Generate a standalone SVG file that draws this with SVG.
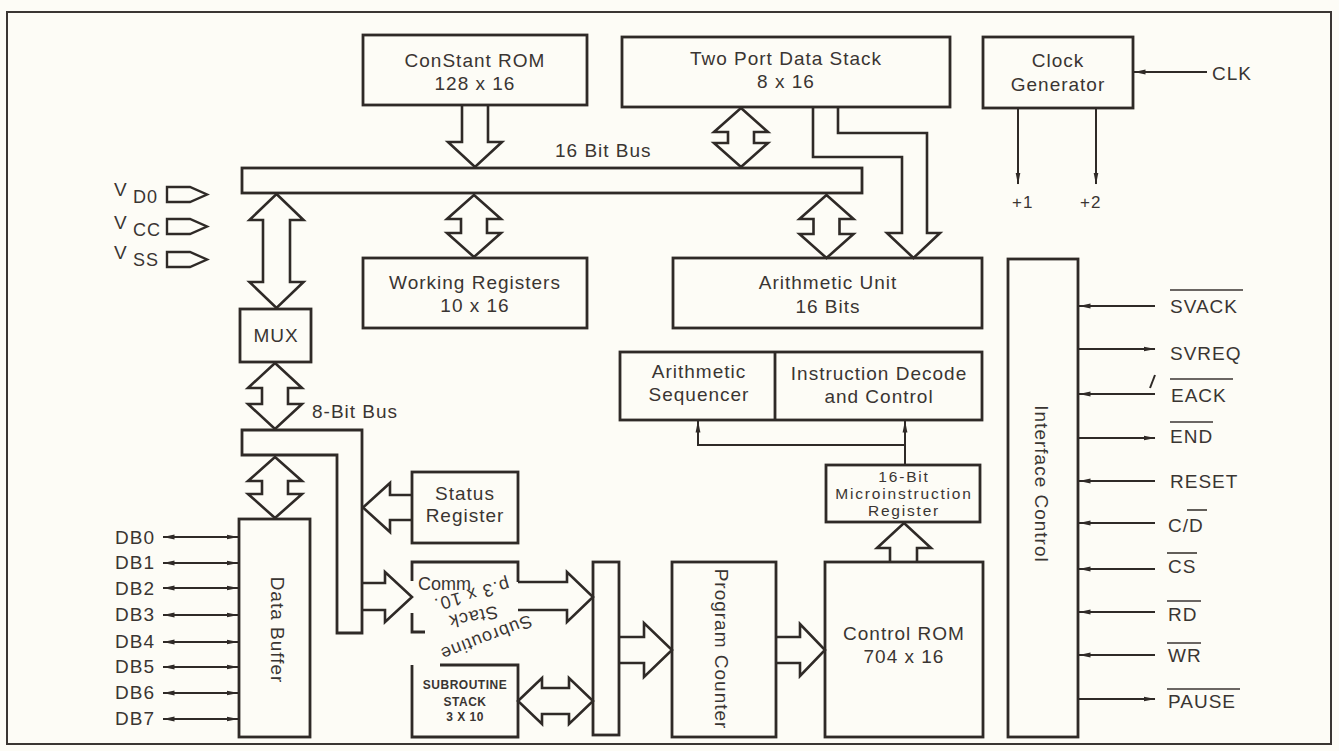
<svg xmlns="http://www.w3.org/2000/svg" width="1339" height="751" viewBox="0 0 1339 751">
<defs>
<style>
.bg{fill:#fdfcf6}
.box{fill:none;stroke:#2f2a27;stroke-width:2.8}
.fat{fill:#fdfcf6;stroke:#2f2a27;stroke-width:2.6;stroke-linejoin:miter}
.sig{fill:none;stroke:#2f2a27;stroke-width:2}
.ovl{fill:none;stroke:#3a3532;stroke-width:1.6}
text{font-family:"Liberation Sans",Arial,Helvetica,sans-serif;font-size:19px;letter-spacing:1px;fill:#3a3532}
.c{text-anchor:middle}
.sm{font-size:17px}
.mi{font-size:15.5px;letter-spacing:1.8px}
.b{font-weight:bold;font-size:12px;letter-spacing:0.5px}
</style>
<marker id="ah" viewBox="0 0 12 6" markerWidth="12" markerHeight="6" refX="11.5" refY="3" orient="auto-start-reverse" markerUnits="userSpaceOnUse">
<path d="M0,0.6 L12,3 L0,5.4 Z" fill="#2f2a27"/>
</marker>
</defs>
<rect class="bg" x="0" y="0" width="1339" height="751"/>
<rect x="7" y="12" width="1324" height="732" fill="none" stroke="#3b3633" stroke-width="2"/>

<g id="connectors">
<path class="fat" d="M462,105 V142 H448 L475,167 L502,142 H488 V105"/>
<path class="fat" d="M741,108 L768,132 H754 V143 H768 L741,167 L714,143 H728 V132 H714 Z"/>
<path class="fat" d="M474,195 L501,219 H487 V233 H501 L474,257 L447,233 H461 V219 H447 Z"/>
<path class="fat" d="M826.5,195 L853.5,219 H839.5 V234 H853.5 L826.5,258 L799.5,234 H813.5 V219 H799.5 Z"/>
<path class="fat" d="M276.5,194 L303.5,220 H290 V282 H303.5 L276.5,308 L249.5,282 H263 V220 H249.5 Z"/>
<path class="fat" d="M275,363 L302,388 H288 V404 H302 L275,429 L248,404 H262 V388 H248 Z"/>
<path class="fat" d="M275,457 L302,481 H288 V494 H302 L275,518 L248,494 H262 V481 H248 Z"/>
<path class="fat" d="M813,107 V157 H902 V233 H887 L913.5,258 L940,233 H927 V133 H838 V107"/>
<path class="fat" d="M412,495 H390 V483 L363,507.5 L390,532 V520 H412"/>
<path class="fat" d="M363,583 H385 V572 L412,597 L385,622 V610 H363"/>
<path class="fat" d="M518,582 H567 V572 L593,597 L567,622 V610 H518"/>
<path class="fat" d="M518,701 L542,678 V688 H569 V678 L593,701 L569,724 V714 H542 V724 Z"/>
<path class="fat" d="M619,637 H644 V623 L672,650 L644,677 V663 H619"/>
<path class="fat" d="M776,637 H800 V624 L825,650 L800,676 V663 H776"/>
<path class="fat" d="M890,562 V548 H877 L904,523 L931,548 H917 V562"/>
<line class="sig" x1="1207" y1="72" x2="1134" y2="72" marker-end="url(#ah)"/>
<line class="sig" x1="1018" y1="108" x2="1018" y2="184" marker-end="url(#ah)"/>
<line class="sig" x1="1096" y1="108" x2="1096" y2="184" marker-end="url(#ah)"/>
<line class="sig" x1="905" y1="465" x2="905" y2="421" marker-end="url(#ah)"/>
<polyline class="sig" points="905,445 698,445 698,421" marker-end="url(#ah)"/>
<line class="sig" x1="163" y1="537" x2="238" y2="537" marker-start="url(#ah)" marker-end="url(#ah)"/>
<line class="sig" x1="163" y1="563" x2="238" y2="563" marker-start="url(#ah)" marker-end="url(#ah)"/>
<line class="sig" x1="163" y1="588" x2="238" y2="588" marker-start="url(#ah)" marker-end="url(#ah)"/>
<line class="sig" x1="163" y1="615" x2="238" y2="615" marker-start="url(#ah)" marker-end="url(#ah)"/>
<line class="sig" x1="163" y1="642" x2="238" y2="642" marker-start="url(#ah)" marker-end="url(#ah)"/>
<line class="sig" x1="163" y1="667" x2="238" y2="667" marker-start="url(#ah)" marker-end="url(#ah)"/>
<line class="sig" x1="163" y1="693" x2="238" y2="693" marker-start="url(#ah)" marker-end="url(#ah)"/>
<line class="sig" x1="163" y1="719" x2="238" y2="719" marker-start="url(#ah)" marker-end="url(#ah)"/>
<line class="sig" x1="1155" y1="306" x2="1079" y2="306" marker-end="url(#ah)"/>
<line class="sig" x1="1078" y1="349" x2="1155" y2="349" marker-end="url(#ah)"/>
<line class="sig" x1="1155" y1="394" x2="1079" y2="394" marker-end="url(#ah)"/>
<line class="sig" x1="1150" y1="388" x2="1155" y2="375"/>
<line class="sig" x1="1078" y1="438" x2="1155" y2="438" marker-end="url(#ah)"/>
<line class="sig" x1="1155" y1="481" x2="1079" y2="481" marker-end="url(#ah)"/>
<line class="sig" x1="1155" y1="523" x2="1079" y2="523" marker-end="url(#ah)"/>
<line class="sig" x1="1155" y1="569" x2="1079" y2="569" marker-end="url(#ah)"/>
<line class="sig" x1="1155" y1="612" x2="1079" y2="612" marker-end="url(#ah)"/>
<line class="sig" x1="1155" y1="655" x2="1079" y2="655" marker-end="url(#ah)"/>
<line class="sig" x1="1078" y1="699" x2="1155" y2="699" marker-end="url(#ah)"/>
</g>

<g id="power">
<path class="box" style="stroke-width:2.4" d="M167,187 H190 L207,194.5 L190,202 H167 Z"/>
<path class="box" style="stroke-width:2.4" d="M167,219 H190 L207,226.5 L190,234 H167 Z"/>
<path class="box" style="stroke-width:2.4" d="M167,252 H190 L207,259.5 L190,267 H167 Z"/>
<text x="114" y="196" style="font-size:19px">V</text><text x="133" y="203" style="font-size:18px">D0</text>
<text x="114" y="229" style="font-size:19px">V</text><text x="133" y="236" style="font-size:18px">CC</text>
<text x="114" y="259" style="font-size:19px">V</text><text x="133" y="266" style="font-size:18px">SS</text>
</g>

<g id="constant-rom">
<rect class="box" x="363" y="35" width="224" height="70"/>
<text x="475" y="67" class="c">ConStant ROM</text>
<text x="475" y="90" class="c">128 x 16</text>
</g>

<g id="two-port-stack">
<rect class="box" x="622" y="37" width="328" height="70"/>
<text x="786" y="65" class="c">Two Port Data Stack</text>
<text x="786" y="88" class="c">8 x 16</text>
</g>

<g id="clock-generator">
<rect class="box" x="983" y="37" width="150" height="71"/>
<text x="1058" y="67" class="c">Clock</text>
<text x="1058" y="91" class="c">Generator</text>
<text x="1212" y="80">CLK</text>
<text x="1012" y="208" class="sm">+1</text>
<text x="1080" y="208" class="sm">+2</text>
</g>

<g id="bus16">
<rect class="box" x="242" y="168" width="620" height="25" fill="#fdfcf6"/>
<text x="555" y="157">16 Bit Bus</text>
</g>

<g id="working-registers">
<rect class="box" x="363" y="258" width="224" height="70"/>
<text x="475" y="289" class="c">Working Registers</text>
<text x="475" y="312" class="c">10 x 16</text>
</g>

<g id="arithmetic-unit">
<rect class="box" x="673" y="258" width="309" height="70"/>
<text x="828" y="289" class="c">Arithmetic Unit</text>
<text x="828" y="313" class="c">16 Bits</text>
</g>

<g id="mux">
<rect class="box" x="240" y="309" width="71" height="53"/>
<text x="276" y="342" class="c">MUX</text>
</g>

<g id="bus8">
<path class="box" d="M242,430 H362 V633 H337 V455 H242 Z"/>
<text x="312" y="418">8-Bit Bus</text>
</g>

<g id="data-buffer">
<rect class="box" x="239" y="519" width="71" height="218"/>
<text transform="translate(271,630) rotate(90)" class="c">Data Buffer</text>
<text x="115" y="544">DB0</text>
<text x="115" y="569">DB1</text>
<text x="115" y="595">DB2</text>
<text x="115" y="621">DB3</text>
<text x="115" y="648">DB4</text>
<text x="115" y="673">DB5</text>
<text x="115" y="699">DB6</text>
<text x="115" y="725">DB7</text>
</g>

<g id="status-register">
<rect class="box" x="412" y="472" width="106" height="71"/>
<text x="465" y="500" class="c">Status</text>
<text x="465" y="522" class="c">Register</text>
</g>

<g id="comm-stack">
<path class="box" d="M412,581 V562 H518 V582"/>
<path class="box" d="M412,613 V632 H425"/>
<text x="418" y="590" style="font-size:18px;letter-spacing:0">Comm</text>
<text transform="translate(470,589) rotate(164)" class="c" style="font-size:18px">p.3 x 10.</text>
<text transform="translate(472,611) rotate(168)" class="c" style="font-size:18px">Stack</text>
<text transform="translate(484,632) rotate(159)" class="c" style="font-size:18px">Subroutine</text>
</g>

<g id="subroutine-stack">
<path class="box" d="M440,665 H518 V737 H412 V665"/>
<text x="465" y="689" class="c b">SUBROUTINE</text>
<text x="465" y="706" class="c b">STACK</text>
<text x="465" y="721" class="c b">3 X 10</text>
</g>

<g id="collector">
<rect class="box" x="593" y="562" width="26" height="173"/>
</g>

<g id="program-counter">
<rect class="box" x="672" y="562" width="104" height="175"/>
<text transform="translate(715,649) rotate(90)" class="c">Program Counter</text>
</g>

<g id="control-rom">
<rect class="box" x="825" y="562" width="158" height="175"/>
<text x="904" y="640" class="c">Control ROM</text>
<text x="904" y="663" class="c">704 x 16</text>
</g>

<g id="sequencer-decode">
<rect class="box" x="620" y="352" width="362" height="68"/>
<line class="box" x1="775" y1="352" x2="775" y2="420"/>
<text x="699" y="378" class="c">Arithmetic</text>
<text x="699" y="401" class="c">Sequencer</text>
<text x="879" y="380" class="c">Instruction Decode</text>
<text x="879" y="403" class="c">and Control</text>
</g>

<g id="micro-register">
<rect class="box" x="826" y="465" width="154" height="57"/>
<text x="904" y="482" class="c mi">16-Bit</text>
<text x="904" y="499" class="c mi">Microinstruction</text>
<text x="904" y="516" class="c mi">Register</text>
</g>

<g id="interface-control">
<rect class="box" x="1008" y="259" width="70" height="478"/>
<text transform="translate(1035,484) rotate(90)" class="c">Interface Control</text>
<text x="1170" y="313">SVACK</text>
<line class="ovl" x1="1170" y1="290" x2="1243" y2="290"/>
<text x="1170" y="360">SVREQ</text>
<text x="1171" y="402">EACK</text>
<line class="ovl" x1="1170" y1="379" x2="1233" y2="379"/>
<text x="1170" y="443">END</text>
<line class="ovl" x1="1170" y1="422" x2="1213" y2="422"/>
<text x="1170" y="488">RESET</text>
<text x="1168" y="532">C/D</text>
<line class="ovl" x1="1187" y1="510" x2="1207" y2="510"/>
<text x="1168" y="573">CS</text>
<line class="ovl" x1="1167" y1="553" x2="1197" y2="553"/>
<text x="1168" y="621">RD</text>
<line class="ovl" x1="1167" y1="601" x2="1201" y2="601"/>
<text x="1168" y="662">WR</text>
<line class="ovl" x1="1167" y1="643" x2="1201" y2="643"/>
<text x="1168" y="708">PAUSE</text>
<line class="ovl" x1="1167" y1="689" x2="1240" y2="689"/>
</g>
</svg>
